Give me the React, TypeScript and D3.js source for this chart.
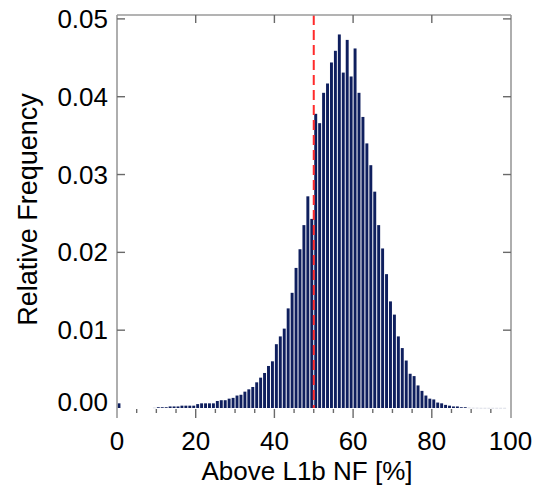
import React from 'react';
import * as d3 from 'd3';

// Relative frequency per 1% bin (bin k covers [k, k+1))
const binStart: number[] = d3.range(0, 100);
const freq: number[] = [
  0.0006, 0, 0, 0, 0, 0, 0, 0, 0, 0.00005,
  0.0001, 0.0001, 0.0001, 0.0002, 0.0002, 0.0002, 0.0003, 0.0003, 0.0003, 0.0003,
  0.0005, 0.0006, 0.0006, 0.0006, 0.0006, 0.0009, 0.0010, 0.0010, 0.0012, 0.0013,
  0.0016, 0.0017, 0.0021, 0.0024, 0.0027, 0.0033, 0.0039, 0.0045, 0.0054, 0.0060,
  0.0082, 0.0092, 0.0102, 0.0128, 0.0148, 0.0180, 0.0204, 0.0235, 0.0272, 0.0243,
  0.0378, 0.0366, 0.0405, 0.0417, 0.0444, 0.0459, 0.0480, 0.0431, 0.0473, 0.0426,
  0.0462, 0.0405, 0.0374, 0.0340, 0.0312, 0.0278, 0.0235, 0.0205, 0.0172, 0.0137,
  0.0120, 0.0092, 0.0077, 0.0061, 0.0044, 0.0041, 0.0029, 0.0022, 0.0016, 0.0012,
  0.0011, 0.0007, 0.0006, 0.0004, 0.0003, 0.0002, 0.0002, 0.0001, 0.0001, 0.00005,
  0.00003, 0.00003, 0.00002, 0.00002, 0.00002, 0.00002, 0.00002, 0.00002, 0.00002, 0,
];
const xMajorTicks: number[] = [0, 20, 40, 60, 80, 100];
const xMinorTicks: number[] = [5, 10, 15, 25, 30, 35, 45, 50, 55, 65, 70, 75, 85, 90, 95];
const yTicks: number[] = [0, 0.01, 0.02, 0.03, 0.04, 0.05];
const thresholdValue = 50;
const xTitle = 'Above L1b NF [%]';
const yTitle = 'Relative Frequency';

const W = 535;
const H = 489;
const L = 117;
const R = 511;
const T = 15;
const B = 408;
const AXIS_BOTTOM = 418;
const FONT = '"Liberation Sans", Arial, Helvetica, sans-serif';

export default function App() {
  const x = d3.scaleLinear().domain([0, 100]).range([L, 510.5]);
  const y = d3.scaleLinear().domain([0, 0.0505]).range([B, T]);
  const step = x(1) - x(0);
  const axisColor = '#9a9a9a';
  const tickColor = '#6a6a6a';

  return (
    <svg
      width={W}
      height={H}
      viewBox={`0 0 ${W} ${H}`}
      style={{ position: 'absolute', left: 0, top: 0, background: '#fff' }}
      fontFamily={FONT}
    >
      {/* bars */}
      <g>
        {binStart.map((b, i) =>
          freq[i] > 0 ? (
            <rect
              key={b}
              x={x(b) + 0.5}
              y={y(freq[i])}
              width={step - 1}
              height={Math.max(0.6, y(0) - y(freq[i]))}
              fill="#0f1f5e"
              fillOpacity={freq[i] < 0.00006 ? 0.25 : 1}
            />
          ) : null
        )}
      </g>

      {/* threshold line */}
      <line
        x1={x(thresholdValue)}
        x2={x(thresholdValue)}
        y1={T}
        y2={B}
        stroke="#ff2b2b"
        strokeWidth={2}
        strokeDasharray="10 5"
      />

      {/* frame */}
      <line x1={L} x2={L} y1={T} y2={AXIS_BOTTOM} stroke={axisColor} strokeWidth={1.6} />
      <line x1={R} x2={R} y1={T} y2={AXIS_BOTTOM} stroke={axisColor} strokeWidth={1.6} />
      <line x1={L} x2={R} y1={T} y2={T} stroke={axisColor} strokeWidth={1.6} />

      {/* y ticks */}
      {yTicks.filter((t) => t > 0).map((t) => (
        <g key={`yt${t}`}>
          <line x1={L} x2={L + 8} y1={y(t)} y2={y(t)} stroke={tickColor} strokeWidth={1.4} />
          <line x1={R - 8} x2={R} y1={y(t)} y2={y(t)} stroke={tickColor} strokeWidth={1.4} />
        </g>
      ))}
      {yTicks.map((t) => (
        <text
          key={`yl${t}`}
          x={108}
          y={Math.min(y(t), 402)}
          textAnchor="end"
          dominantBaseline="central"
          fontSize={26}
          fill="#000"
        >
          {d3.format('.2f')(t)}
        </text>
      ))}

      {/* x ticks */}
      {xMajorTicks.filter((t) => t > 0 && t < 100).map((t) => (
        <line key={`xt${t}`} x1={x(t)} x2={x(t)} y1={T} y2={T + 8} stroke={tickColor} strokeWidth={1.4} />
      ))}
      {xMajorTicks.filter((t) => t > 0 && t < 100).map((t) => (
        <line key={`xb${t}`} x1={x(t)} x2={x(t)} y1={B + 1} y2={AXIS_BOTTOM} stroke={tickColor} strokeWidth={1.4} />
      ))}
      {xMinorTicks.map((t) => (
        <line key={`xm${t}`} x1={x(t)} x2={x(t)} y1={B + 1} y2={B + 5} stroke={tickColor} strokeWidth={1.4} />
      ))}
      {xMajorTicks.map((t) => (
        <text key={`xl${t}`} x={x(t)} y={450} textAnchor="middle" fontSize={26} fill="#000">
          {t}
        </text>
      ))}

      {/* titles */}
      <text x={(L + R) / 2 - 7} y={480} textAnchor="middle" fontSize={26} fill="#000">
        {xTitle}
      </text>
      <text
        transform={`translate(37, ${(T + AXIS_BOTTOM) / 2 - 7}) rotate(-90)`}
        textAnchor="middle"
        fontSize={27}
        fill="#000"
      >
        {yTitle}
      </text>
    </svg>
  );
}
